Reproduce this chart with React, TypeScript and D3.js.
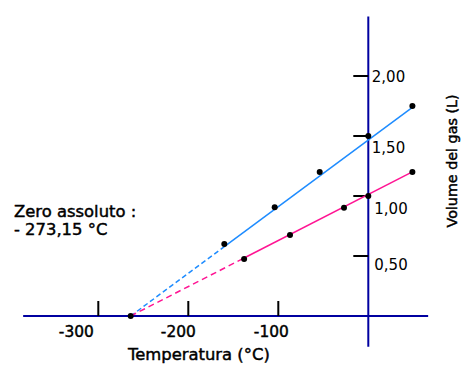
import React from "react";
import * as d3 from "d3";

// Data
const blueTemps = [-160, -104, -54, 0, 49];
const blueVolumes = [0.6, 0.906, 1.2, 1.5, 1.75];
const pinkTemps = [-138, -87, -27, 0, 49];
const pinkVolumes = [0.475, 0.675, 0.902, 1.0, 1.2];
const zeroTemp = -264;
const zeroVolume = 0;
// fitted lines: [start of dashed, start of solid, end]
const blueFitT = [-264, -160, 52];
const blueFitV = [0, 0.578, 1.756];
const pinkFitT = [-264, -138, 50];
const pinkFitV = [0, 0.483, 1.205];

const xTicks = [-300, -200, -100];
const xTickLabels = ["-300", "-200", "-100"];
const yTicks = [0.5, 1.0, 1.5, 2.0];
const yTickLabels = ["0,50", "1,00", "1,50", "2,00"];
const xAxisExtent = [-383.5, 66.5];
const yAxisExtent = [-0.257, 2.495];

const W = 475;
const H = 378;

export default function App() {
  const x = d3.scaleLinear().domain([-300, 0]).range([98.3, 368.3]);
  const y = d3.scaleLinear().domain([0, 2]).range([316, 76]);
  const line = d3
    .line<[number, number]>()
    .x((d) => x(d[0]))
    .y((d) => y(d[1]));

  const blue = "#1e8cff";
  const pink = "#ff1493";
  const axisColor = "#0000a0";

  const xLabelDx = [-22, -10, -7];
  const yLabelDx = [6, 6, 3.5, 3.5];
  const yLabelDy = [14, 17.5, 17, 6];

  const semi = { stroke: "#000", strokeWidth: 0.45 };

  return (
    <svg
      width={W}
      height={H}
      style={{ position: "absolute", left: 0, top: 0, background: "#fff" }}
      fontFamily="DejaVu Sans"
    >
      {/* axes */}
      <line
        x1={x(xAxisExtent[0])}
        x2={x(xAxisExtent[1])}
        y1={y(0)}
        y2={y(0)}
        stroke={axisColor}
        strokeWidth={2}
      />
      <line
        x1={x(0)}
        x2={x(0)}
        y1={y(yAxisExtent[0])}
        y2={y(yAxisExtent[1])}
        stroke={axisColor}
        strokeWidth={2}
      />
      {/* x ticks */}
      {xTicks.map((t, i) => (
        <g key={"xt" + i}>
          <line x1={x(t)} x2={x(t)} y1={y(0) - 15} y2={y(0)} stroke="#000" strokeWidth={2} />
          <text
            x={x(t) + xLabelDx[i]}
            y={336.5}
            textAnchor="middle"
            fontSize={15.4}
            fill="#000"
            {...semi}
          >
            {xTickLabels[i]}
          </text>
        </g>
      ))}
      {/* y ticks */}
      {yTicks.map((v, i) => (
        <g key={"yt" + i}>
          <line x1={x(0) - 15} x2={x(0)} y1={y(v)} y2={y(v)} stroke="#000" strokeWidth={2} />
          <text x={x(0) + yLabelDx[i]} y={y(v) + yLabelDy[i]} fontSize={15} fill="#000">
            {yTickLabels[i]}
          </text>
        </g>
      ))}
      {/* fitted lines */}
      <path
        d={line([[blueFitT[0], blueFitV[0]], [blueFitT[1], blueFitV[1]]]) || ""}
        stroke={blue}
        strokeWidth={1.5}
        strokeDasharray="5,3"
        fill="none"
      />
      <path
        d={line([[blueFitT[1], blueFitV[1]], [blueFitT[2], blueFitV[2]]]) || ""}
        stroke={blue}
        strokeWidth={1.5}
        fill="none"
      />
      <path
        d={line([[pinkFitT[0], pinkFitV[0]], [pinkFitT[1], pinkFitV[1]]]) || ""}
        stroke={pink}
        strokeWidth={1.5}
        strokeDasharray="6,4"
        fill="none"
      />
      <path
        d={line([[pinkFitT[1], pinkFitV[1]], [pinkFitT[2], pinkFitV[2]]]) || ""}
        stroke={pink}
        strokeWidth={1.5}
        fill="none"
      />
      {/* points */}
      {blueTemps.map((t, i) => (
        <circle key={"b" + i} cx={x(t)} cy={y(blueVolumes[i])} r={3} fill="#000" />
      ))}
      {pinkTemps.map((t, i) => (
        <circle key={"p" + i} cx={x(t)} cy={y(pinkVolumes[i])} r={3} fill="#000" />
      ))}
      <circle cx={x(zeroTemp)} cy={y(zeroVolume)} r={3} fill="#000" />
      {/* texts */}
      <text x={14} y={216.5} fontSize={16.4} fill="#000" {...semi}>
        Zero assoluto :
      </text>
      <text x={14} y={235} fontSize={16.4} fill="#000" {...semi}>
        - 273,15 °C
      </text>
      <text x={128} y={360} fontSize={16.4} fill="#000" {...semi}>
        Temperatura (°C)
      </text>
      <text
        transform="translate(457,161) rotate(-90)"
        textAnchor="middle"
        fontSize={14.3}
        fill="#000"
        {...semi}
      >
        Volume del gas (L)
      </text>
    </svg>
  );
}
